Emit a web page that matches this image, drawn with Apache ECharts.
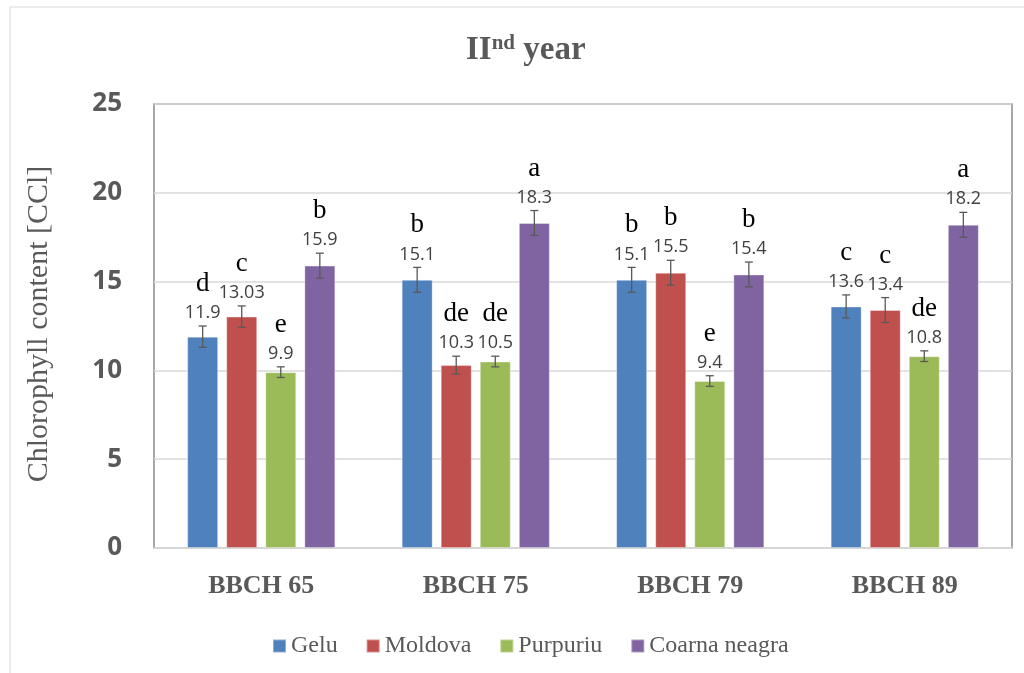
<!DOCTYPE html>
<html><head><meta charset="utf-8">
<script src="https://cdn.jsdelivr.net/npm/echarts@6/dist/echarts.min.js"></script>
<style>html,body{margin:0;padding:0;background:#fff}#c{width:1024px;height:673px}</style>
</head><body><div id="c"></div>
<script>
const categories = ['BBCH 65', 'BBCH 75', 'BBCH 79', 'BBCH 89'];
const seriesNames = ['Gelu', 'Moldova', 'Purpuriu', 'Coarna neagra'];
const gelu = [11.9, 15.1, 15.1, 13.6];
const moldova = [13.03, 10.3, 15.5, 13.4];
const purpuriu = [9.9, 10.5, 9.4, 10.8];
const coarna = [15.9, 18.3, 15.4, 18.2];
const geluErr = [0.6, 0.7, 0.7, 0.65];
const moldovaErr = [0.6, 0.5, 0.7, 0.7];
const purpuriuErr = [0.3, 0.3, 0.3, 0.3];
const coarnaErr = [0.7, 0.7, 0.7, 0.7];
const geluLetters = ['d', 'b', 'b', 'c'];
const moldovaLetters = ['c', 'de', 'b', 'c'];
const purpuriuLetters = ['e', 'de', 'e', 'de'];
const coarnaLetters = ['b', 'a', 'b', 'a'];
const geluLabels = ['11.9', '15.1', '15.1', '13.6'];
const moldovaLabels = ['13.03', '10.3', '15.5', '13.4'];
const purpuriuLabels = ['9.9', '10.5', '9.4', '10.8'];
const coarnaLabels = ['15.9', '18.3', '15.4', '18.2'];
const yTicks = [0, 5, 10, 15, 20, 25];

const colors = ['#4F81BD', '#C0504D', '#9BBB59', '#8064A2'];
const BAR_W = 31, BAR_GAP = '26%';
const SERIF = 'Liberation Serif';
const values = [gelu, moldova, purpuriu, coarna];
const errs = [geluErr, moldovaErr, purpuriuErr, coarnaErr];
const letters = [geluLetters, moldovaLetters, purpuriuLetters, coarnaLetters];
const labels = [geluLabels, moldovaLabels, purpuriuLabels, coarnaLabels];

const chart = echarts.init(document.getElementById('c'));
const series = [];
values.forEach((vals, idx) => {
  series.push({
    name: seriesNames[idx], type: 'bar', data: vals,
    barWidth: BAR_W, barGap: BAR_GAP,
    itemStyle: { color: colors[idx], borderColor: 'rgba(255,255,255,0.35)', borderWidth: 1 },
    emphasis: { disabled: true }
  });
});
values.forEach((vals, idx) => {
  series.push({
    type: 'custom', z: 10, silent: true,
    data: vals.map((v, i) => [i, v, errs[idx][i]]),
    renderItem: (params, api) => {
      const cat = api.value(0), v = api.value(1), e = api.value(2);
      const layout = api.barLayout({ barWidth: BAR_W, barGap: BAR_GAP, count: 4 });
      const c = api.coord([cat, v]);
      const x = c[0] + layout[idx].offsetCenter;
      const top = api.coord([cat, v + e])[1];
      const bot = api.coord([cat, v - e])[1];
      const cap = 4;
      const ls = { stroke: '#595959', lineWidth: 1.3 };
      const di = params.dataIndex;
      return {
        type: 'group', children: [
          { type: 'line', shape: { x1: x, y1: top, x2: x, y2: bot }, style: ls },
          { type: 'line', shape: { x1: x - cap, y1: top, x2: x + cap, y2: top }, style: ls },
          { type: 'line', shape: { x1: x - cap, y1: bot, x2: x + cap, y2: bot }, style: ls },
          { type: 'text', style: { text: labels[idx][di], x: x, y: top - 13, align: 'center', verticalAlign: 'middle', fontFamily: 'Open Sans', fontSize: 18, fill: '#404040' } },
          { type: 'text', style: { text: letters[idx][di], x: x, y: top - 42, align: 'center', verticalAlign: 'middle', fontFamily: SERIF, fontSize: 27, fill: '#000' } }
        ]
      };
    }
  });
});

chart.setOption({
  animation: false,
  color: colors,
  textStyle: { fontFamily: SERIF },
  title: {
    text: 'II{sup|nd} year', left: 461, top: 28,
    textStyle: {
      fontFamily: SERIF, fontWeight: 'bold', fontSize: 33, color: '#595959',
      rich: { sup: { fontFamily: SERIF, fontWeight: 'bold', fontSize: 21, color: '#595959', verticalAlign: 'top', padding: [0, 0, 13, 0] } }
    }
  },
  graphic: [
    { type: 'rect', shape: { x: 10, y: 7, width: 1030, height: 700 }, style: { fill: 'none', stroke: '#d9d9d9', lineWidth: 1 }, silent: true, z: -10 },
    { type: 'text', x: 39, y: 324, rotation: Math.PI / 2, silent: true,
      style: { text: 'Chlorophyll content [CCl]', align: 'center', verticalAlign: 'middle', fontFamily: SERIF, fontSize: 30, fill: '#595959' } }
  ],
  legend: {
    top: 629, left: 267, itemWidth: 13, itemHeight: 13, itemGap: 28, icon: 'rect',
    data: seriesNames,
    textStyle: { fontFamily: SERIF, fontSize: 24, color: '#595959' }
  },
  grid: { left: 154, right: 12, top: 104, bottom: 125, show: true, borderColor: '#8a8a8a', borderWidth: 1.5, containLabel: false },
  xAxis: {
    type: 'category', data: categories,
    axisLine: { show: true, lineStyle: { color: '#d9d9d9', width: 1.5 } },
    axisTick: { show: false },
    axisLabel: { margin: 25, fontFamily: SERIF, fontWeight: 'bold', fontSize: 26, color: '#595959' }
  },
  yAxis: {
    type: 'value', min: 0, max: 25, interval: 5,
    axisLabel: { margin: 32, fontFamily: 'Open Sans', fontWeight: 'bold', fontSize: 26, color: '#595959',
      formatter: v => yTicks.includes(v) ? String(v) : '' },
    axisLine: { show: false }, axisTick: { show: false },
    splitLine: { lineStyle: { color: '#d9d9d9', width: 1.5 } }
  },
  series: series
});
</script></body></html>
